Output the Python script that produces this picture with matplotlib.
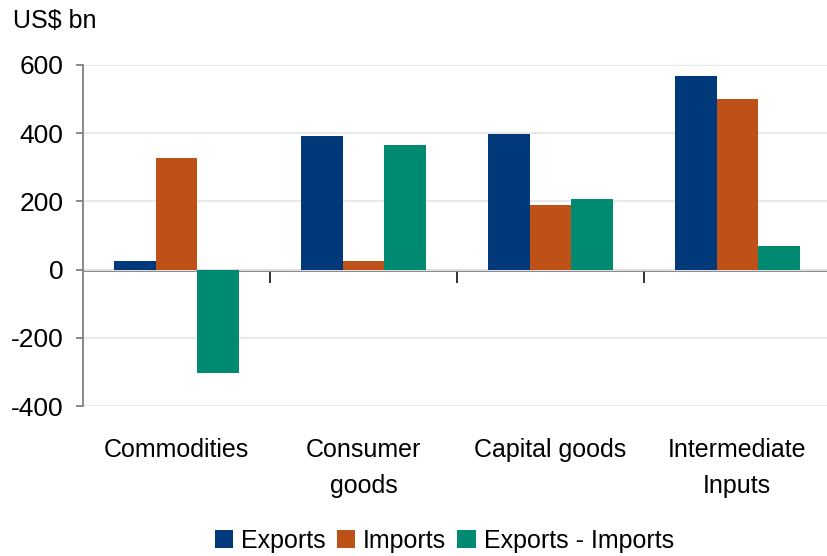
import matplotlib.pyplot as plt
import numpy as np

plt.rcParams['font.family'] = ['Liberation Sans', 'DejaVu Sans']
plt.rcParams['axes.unicode_minus'] = False

categories = ['Commodities', 'Consumer\ngoods', 'Capital goods', 'Intermediate\nInputs']
exports = [26, 392, 398, 568]
imports = [328, 26, 190, 500]
balance = [-302, 366, 208, 68]

series = [('Exports', exports, '#003979'),
          ('Imports', imports, '#be5118'),
          ('Exports - Imports', balance, '#008a72')]

fs = 18

fig = plt.figure(figsize=(8.27, 5.56), dpi=100)
ax = fig.add_axes([83 / 827, 1 - 406 / 556, 1 - 83 / 827, (406 - 65) / 556])

x = np.arange(len(categories))
width = 0.222
for i, (name, vals, color) in enumerate(series):
    ax.bar(x + (i - 1) * width, vals, width, color=color, label=name, zorder=2)

ax.set_xlim(-0.5, 3.48)
ax.set_ylim(-400, 600)
ax.set_yticks(np.arange(-400, 601, 200))
ax.yaxis.grid(True, color='#e6e6e6', linewidth=1.3, zorder=0)
ax.set_axisbelow(True)

for side in ['top', 'right', 'bottom']:
    ax.spines[side].set_visible(False)
ax.spines['left'].set_color('#808080')
ax.spines['left'].set_linewidth(1.3)
ax.tick_params(axis='y', direction='out', length=5, width=1.3, color='#808080',
               labelsize=fs + 1, pad=9)

# category names sit below the plot, boundary ticks hang from the zero line
ax.set_xticks(x)
ax.set_xticklabels(categories, fontsize=fs, linespacing=1.65)
ax.tick_params(axis='x', length=0, pad=23)

zero = ax.secondary_xaxis(0.4)
zero.set_xticks(np.arange(0.5, 3, 1))
zero.set_xticklabels([])
zero.spines['bottom'].set_color('#808080')
zero.spines['bottom'].set_linewidth(2)
zero.tick_params(axis='x', direction='out', length=9, width=1.3, color='#222222')

fig.text(13 / 827, 1 - 21 / 556, 'US$ bn', fontsize=fs, va='center', ha='left')

fig.legend(loc='lower center', bbox_to_anchor=(0.537, -0.035), ncol=3, frameon=False,
           fontsize=fs, handlelength=0.75, handleheight=0.75, handletextpad=0.3,
           columnspacing=0.45)

fig.savefig('out.png', dpi=100)
